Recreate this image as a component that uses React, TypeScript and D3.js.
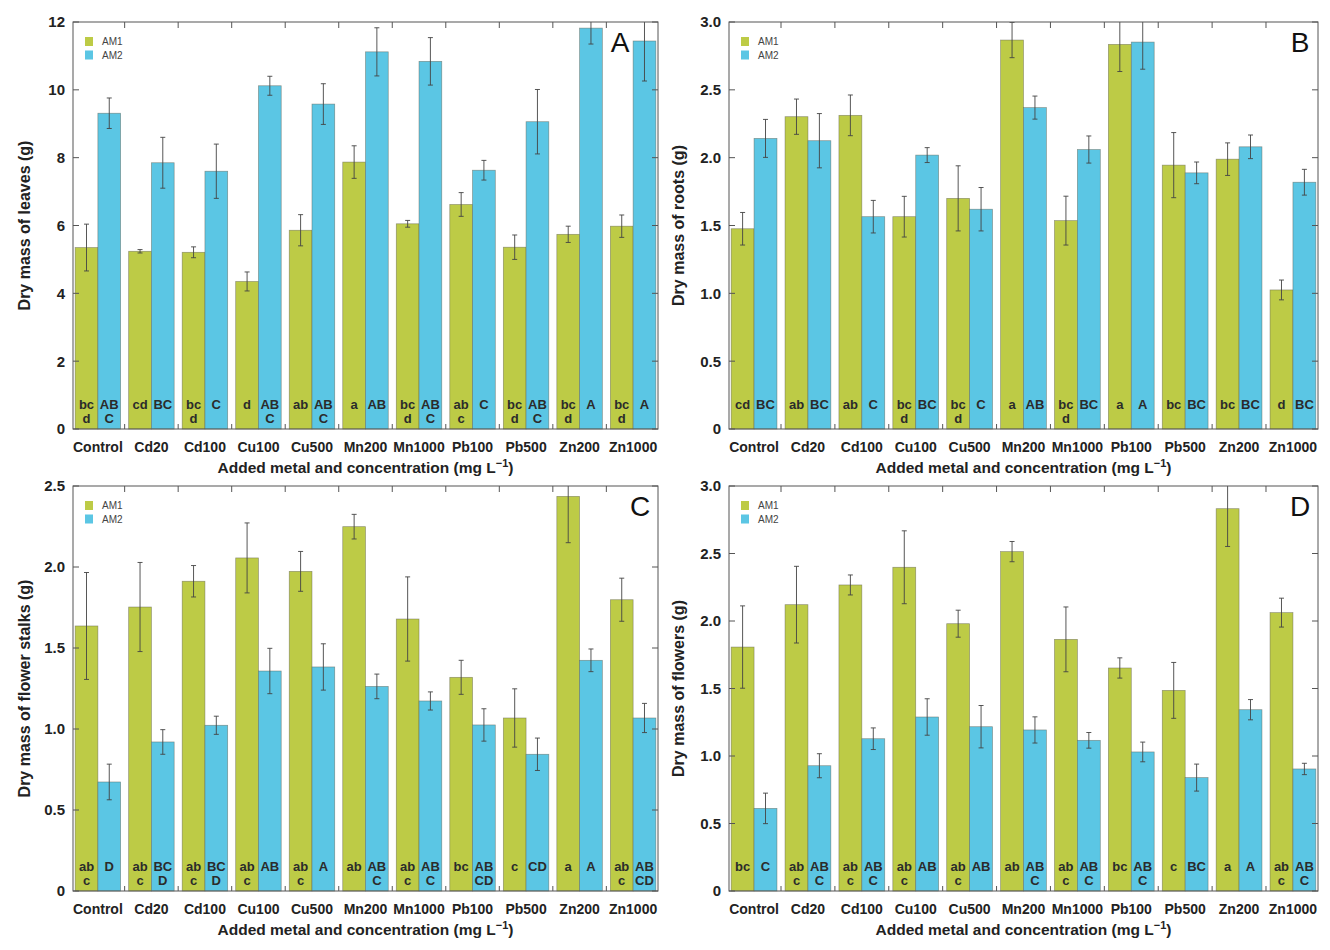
import React, { useEffect, useRef } from 'react';
import * as d3 from 'd3';

const categories = ['Control', 'Cd20', 'Cd100', 'Cu100', 'Cu500', 'Mn200', 'Mn1000', 'Pb100', 'Pb500', 'Zn200', 'Zn1000'];
const series = ['AM1', 'AM2'];

// A - leaves
const leavesAM1 = [5.35, 5.24, 5.21, 4.35, 5.86, 7.87, 6.05, 6.62, 5.36, 5.74, 5.98];
const leavesAM1Err = [0.69, 0.05, 0.16, 0.28, 0.46, 0.48, 0.1, 0.35, 0.36, 0.24, 0.33];
const leavesAM2 = [9.31, 7.85, 7.6, 10.12, 9.58, 11.12, 10.84, 7.63, 9.06, 11.82, 11.44];
const leavesAM2Err = [0.45, 0.75, 0.8, 0.28, 0.6, 0.71, 0.7, 0.29, 0.95, 0.47, 1.18];
const leavesAM1Letters = ['bc d', 'cd', 'bc d', 'd', 'ab', 'a', 'bc d', 'ab c', 'bc d', 'bc d', 'bc d'];
const leavesAM2Letters = ['AB C', 'BC', 'C', 'AB C', 'AB C', 'AB', 'AB C', 'C', 'AB C', 'A', 'A'];

// B - roots
const rootsAM1 = [1.476, 2.302, 2.312, 1.565, 1.7, 2.867, 1.536, 2.835, 1.945, 1.989, 1.025];
const rootsAM1Err = [0.12, 0.13, 0.15, 0.15, 0.24, 0.13, 0.18, 0.2, 0.24, 0.12, 0.073];
const rootsAM2 = [2.142, 2.125, 1.565, 2.019, 1.62, 2.369, 2.06, 2.852, 1.888, 2.08, 1.819];
const rootsAM2Err = [0.14, 0.2, 0.12, 0.055, 0.16, 0.085, 0.1, 0.2, 0.08, 0.087, 0.095];
const rootsAM1Letters = ['cd', 'ab', 'ab', 'bc d', 'bc d', 'a', 'bc d', 'a', 'bc', 'bc', 'd'];
const rootsAM2Letters = ['BC', 'BC', 'C', 'BC', 'C', 'AB', 'BC', 'A', 'BC', 'BC', 'BC'];

// C - flower stalks
const stalksAM1 = [1.636, 1.753, 1.912, 2.056, 1.973, 2.249, 1.679, 1.319, 1.068, 2.436, 1.798];
const stalksAM1Err = [0.33, 0.275, 0.097, 0.216, 0.123, 0.076, 0.26, 0.105, 0.18, 0.286, 0.133];
const stalksAM2 = [0.673, 0.92, 1.023, 1.358, 1.383, 1.263, 1.173, 1.025, 0.844, 1.424, 1.068];
const stalksAM2Err = [0.11, 0.076, 0.056, 0.14, 0.143, 0.076, 0.056, 0.1, 0.1, 0.07, 0.09];
const stalksAM1Letters = ['ab c', 'ab c', 'ab c', 'ab c', 'ab c', 'ab', 'ab c', 'bc', 'c', 'a', 'ab c'];
const stalksAM2Letters = ['D', 'BC D', 'BC D', 'AB', 'A', 'AB C', 'AB C', 'AB CD', 'CD', 'A', 'AB CD'];

// D - flowers
const flowersAM1 = [1.807, 2.121, 2.267, 2.398, 1.98, 2.514, 1.864, 1.652, 1.486, 2.832, 2.062];
const flowersAM1Err = [0.305, 0.284, 0.074, 0.27, 0.1, 0.075, 0.24, 0.075, 0.207, 0.28, 0.107];
const flowersAM2 = [0.612, 0.928, 1.128, 1.289, 1.217, 1.193, 1.116, 1.03, 0.84, 1.343, 0.904];
const flowersAM2Err = [0.113, 0.089, 0.08, 0.135, 0.157, 0.097, 0.058, 0.073, 0.1, 0.075, 0.042];
const flowersAM1Letters = ['bc', 'ab c', 'ab c', 'ab c', 'ab c', 'ab', 'ab c', 'bc', 'c', 'a', 'ab c'];
const flowersAM2Letters = ['C', 'AB C', 'AB C', 'AB', 'AB', 'AB C', 'AB C', 'AB C', 'BC', 'A', 'AB C'];

const leavesTicks = [0, 2, 4, 6, 8, 10, 12];
const rootsTicks = [0, 0.5, 1.0, 1.5, 2.0, 2.5, 3.0];
const stalksTicks = [0, 0.5, 1.0, 1.5, 2.0, 2.5];
const flowersTicks = [0, 0.5, 1.0, 1.5, 2.0, 2.5, 3.0];

const colors = ['#bdcb46', '#5bc6e4'];
const FONT = '"Liberation Sans", Arial, Helvetica, sans-serif';

interface PanelDef {
  id: string;
  letter: string;
  yLabel: string;
  max: number;
  ticks: number[];
  tickFmt: (v: number) => string;
  values: number[][];
  errors: number[][];
  letters: string[][];
  box: { left: number; right: number; top: number; bottom: number };
  letterX: number;
  yLabelX: number;
}

const fmt1 = (v: number) => (v === 0 ? '0' : d3.format('.1f')(v));

const panels: PanelDef[] = [
  {
    id: 'a', letter: 'A', yLabel: 'Dry mass of leaves (g)', max: 12, ticks: leavesTicks, tickFmt: (v) => String(v),
    values: [leavesAM1, leavesAM2], errors: [leavesAM1Err, leavesAM2Err], letters: [leavesAM1Letters, leavesAM2Letters],
    box: { left: 73, right: 658, top: 22, bottom: 429 }, letterX: 620, yLabelX: 24,
  },
  {
    id: 'b', letter: 'B', yLabel: 'Dry mass of roots (g)', max: 3, ticks: rootsTicks, tickFmt: fmt1,
    values: [rootsAM1, rootsAM2], errors: [rootsAM1Err, rootsAM2Err], letters: [rootsAM1Letters, rootsAM2Letters],
    box: { left: 729, right: 1318, top: 22, bottom: 429 }, letterX: 1300, yLabelX: 678,
  },
  {
    id: 'c', letter: 'C', yLabel: 'Dry mass of flower stalks (g)', max: 2.5, ticks: stalksTicks, tickFmt: fmt1,
    values: [stalksAM1, stalksAM2], errors: [stalksAM1Err, stalksAM2Err], letters: [stalksAM1Letters, stalksAM2Letters],
    box: { left: 73, right: 658, top: 486, bottom: 891 }, letterX: 640, yLabelX: 24,
  },
  {
    id: 'd', letter: 'D', yLabel: 'Dry mass of flowers (g)', max: 3, ticks: flowersTicks, tickFmt: fmt1,
    values: [flowersAM1, flowersAM2], errors: [flowersAM1Err, flowersAM2Err], letters: [flowersAM1Letters, flowersAM2Letters],
    box: { left: 729, right: 1318, top: 486, bottom: 891 }, letterX: 1300, yLabelX: 678,
  },
];

const App: React.FC = () => {
  const svgRef = useRef<SVGSVGElement>(null);

  useEffect(() => {
    if (!svgRef.current) return;
    const svg = d3.select(svgRef.current);
    svg.selectAll('*').remove();

    panels.forEach((p) => {
      const { left, right, top, bottom } = p.box;
      const g = svg.append('g').attr('font-family', FONT);

      const x0 = d3.scaleBand<string>().domain(categories).range([left, right]).paddingInner(0.15).paddingOuter(0.04);
      const x1 = d3.scaleBand<string>().domain(series).range([0, x0.bandwidth()]);
      const y = d3.scaleLinear().domain([0, p.max]).range([bottom, top]);

      const clipId = `clip-${p.id}`;
      g.append('clipPath').attr('id', clipId)
        .append('rect').attr('x', left).attr('y', top).attr('width', right - left).attr('height', bottom - top);

      // bars
      series.forEach((s, si) => {
        g.append('g').selectAll('rect')
          .data(p.values[si])
          .join('rect')
          .attr('x', (_, i) => (x0(categories[i]) as number) + (x1(s) as number))
          .attr('y', (d) => y(d))
          .attr('width', x1.bandwidth())
          .attr('height', (d) => bottom - y(d))
          .attr('fill', colors[si])
          .attr('stroke', '#5f5f50')
          .attr('stroke-opacity', 0.6)
          .attr('stroke-width', 0.7);
      });

      // error bars
      const eg = g.append('g').attr('clip-path', `url(#${clipId})`).attr('stroke', '#444').attr('stroke-width', 0.9);
      series.forEach((s, si) => {
        p.values[si].forEach((v, i) => {
          const cx = (x0(categories[i]) as number) + (x1(s) as number) + x1.bandwidth() / 2;
          const e = p.errors[si][i];
          eg.append('line').attr('x1', cx).attr('x2', cx).attr('y1', y(v - e)).attr('y2', y(v + e));
          eg.append('line').attr('x1', cx - 2.5).attr('x2', cx + 2.5).attr('y1', y(v - e)).attr('y2', y(v - e));
          eg.append('line').attr('x1', cx - 2.5).attr('x2', cx + 2.5).attr('y1', y(v + e)).attr('y2', y(v + e));
        });
      });

      // significance letters
      series.forEach((s, si) => {
        p.letters[si].forEach((txt, i) => {
          const cx = (x0(categories[i]) as number) + (x1(s) as number) + x1.bandwidth() / 2;
          txt.split(' ').forEach((line, li) => {
            g.append('text')
              .attr('x', cx)
              .attr('y', bottom - 20 + li * 13.5)
              .attr('text-anchor', 'middle')
              .attr('font-size', 13)
              .attr('font-weight', 'bold')
              .attr('fill', '#2b2b2b')
              .text(line);
          });
        });
      });

      // frame
      g.append('rect')
        .attr('x', left).attr('y', top).attr('width', right - left).attr('height', bottom - top)
        .attr('fill', 'none').attr('stroke', '#555').attr('stroke-width', 1);

      // y ticks (inside, both sides)
      p.ticks.forEach((t) => {
        g.append('line').attr('x1', left).attr('x2', left + 6).attr('y1', y(t)).attr('y2', y(t)).attr('stroke', '#555');
        g.append('line').attr('x1', right).attr('x2', right - 6).attr('y1', y(t)).attr('y2', y(t)).attr('stroke', '#555');
        g.append('text')
          .attr('x', left - 8)
          .attr('y', y(t))
          .attr('dy', '0.36em')
          .attr('text-anchor', 'end')
          .attr('font-size', 15)
          .attr('font-weight', 'bold')
          .attr('fill', '#222')
          .text(p.tickFmt(t));
      });

      // x ticks between groups (top and bottom)
      const gap = x0.step() - x0.bandwidth();
      categories.slice(0, -1).forEach((c) => {
        const bx = (x0(c) as number) + x0.bandwidth() + gap / 2;
        g.append('line').attr('x1', bx).attr('x2', bx).attr('y1', bottom).attr('y2', bottom - 5).attr('stroke', '#555');
        g.append('line').attr('x1', bx).attr('x2', bx).attr('y1', top).attr('y2', top + 6).attr('stroke', '#555');
      });

      // category labels
      categories.forEach((c) => {
        g.append('text')
          .attr('x', (x0(c) as number) + x0.bandwidth() / 2)
          .attr('y', bottom + 23)
          .attr('text-anchor', 'middle')
          .attr('font-size', 14)
          .attr('font-weight', 'bold')
          .attr('fill', '#222')
          .text(c);
      });

      // x axis title
      const xt = g.append('text')
        .attr('x', (left + right) / 2)
        .attr('y', bottom + 44)
        .attr('text-anchor', 'middle')
        .attr('font-size', 15.5)
        .attr('font-weight', 'bold')
        .attr('fill', '#222');
      xt.append('tspan').text('Added metal and concentration (mg L');
      xt.append('tspan').attr('dy', -6).attr('font-size', 11).text('\u22121');
      xt.append('tspan').attr('dy', 6).text(')');

      // y axis title
      g.append('text')
        .attr('transform', `translate(${p.yLabelX},${(top + bottom) / 2}) rotate(-90)`)
        .attr('text-anchor', 'middle')
        .attr('dy', '0.35em')
        .attr('font-size', 16)
        .attr('font-weight', 'bold')
        .attr('fill', '#222')
        .text(p.yLabel);

      // legend
      series.forEach((s, si) => {
        g.append('rect')
          .attr('x', left + 12).attr('y', top + 15 + si * 13.5)
          .attr('width', 8).attr('height', 9)
          .attr('fill', colors[si]);
        g.append('text')
          .attr('x', left + 29).attr('y', top + 19.5 + si * 13.5)
          .attr('dy', '0.35em')
          .attr('font-size', 10)
          .attr('fill', '#444')
          .text(s);
      });

      // panel letter
      g.append('text')
        .attr('x', p.letterX)
        .attr('y', top + 30)
        .attr('text-anchor', 'middle')
        .attr('font-size', 28)
        .attr('fill', '#111')
        .text(p.letter);
    });
  }, []);

  return (
    <svg
      ref={svgRef}
      width={1330}
      height={950}
      style={{ position: 'absolute', left: 0, top: 0, background: '#fff' }}
    ></svg>
  );
};

export default App;
